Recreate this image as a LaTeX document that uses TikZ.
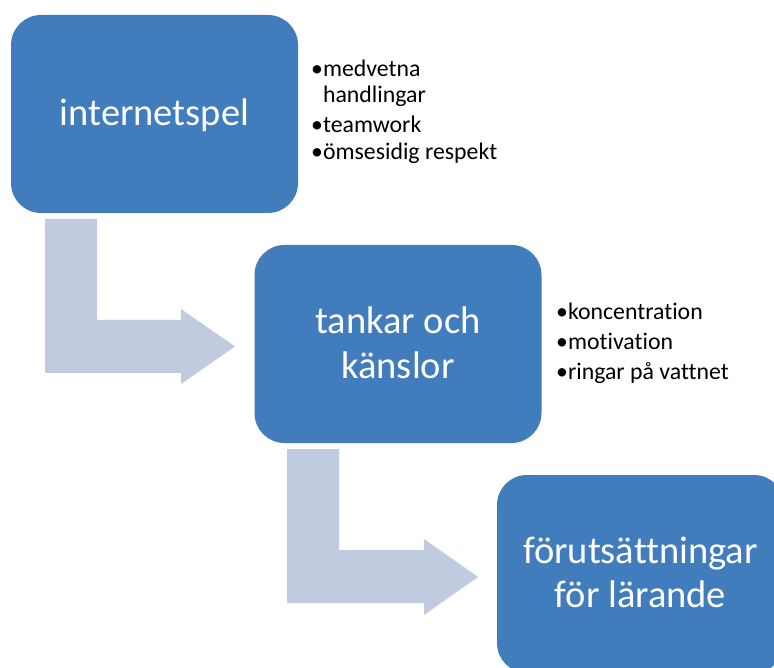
\documentclass[tikz,border=0pt]{standalone}
\usepackage{fontspec}
\setmainfont{Carlito}[Ligatures={NoCommon}]
\usetikzlibrary{calc}
\definecolor{boxblue}{HTML}{417CBC}
\definecolor{arrowgray}{HTML}{C1CBE0}
\begin{document}
\begin{tikzpicture}[x=1pt,y=-1pt,
  box/.style={rectangle, rounded corners=30pt, fill=boxblue, minimum width=287pt, minimum height=198pt, inner sep=0pt},
  boxtext/.style={text=white, font=\fontsize{38.5}{45}\selectfont, anchor=base, inner sep=0pt},
  bullettext/.style={text=black, font=\fontsize{23.8}{26}\selectfont, anchor=base west, inner sep=0pt},
  bentarrow/.style={fill=arrowgray}]
\useasboundingbox (0,0) rectangle (774,668);
\fill[white] (0,0) rectangle (774,668);
\begin{scope}
\clip (0,0) rectangle (774,668);
% bent arrows
\fill[bentarrow] (45,219) -- (97,219) -- (97,320) -- (181,320) -- (181,309) -- (235,346.5) -- (181,384) -- (181,373) -- (45,373) -- cycle;
\fill[bentarrow] (287,449) -- (339,449) -- (339,550) -- (424,550) -- (424,539) -- (478,577) -- (424,615) -- (424,603) -- (287,603) -- cycle;
% boxes
\node[box] (b1) at (154.5,114) {};
\node[box] (b2) at (398,344) {};
\node[box] (b3) at (640.5,574) {};
% box texts
\node[boxtext] (t1) at ($(b1.center)+(0,12)$) {internetspel};
\node[boxtext] (t2a) at ($(b2.center)+(0,-10.5)$) {tankar och};
\node[boxtext] (t2b) at ($(b2.center)+(0,34.5)$) {känslor};
\node[boxtext] (t3a) at ($(b3.center)+(0,-10.5)$) {förutsättningar};
\node[boxtext] (t3b) at ($(b3.center)+(0,33.5)$) {för lärande};
\end{scope}
% bullet lists
\node[bullettext] (l1a) at (311,77) {•medvetna};
\node[bullettext] (l1b) at (311,103) {\phantom{•}handlingar};
\node[bullettext] (l1c) at (311,133) {•teamwork};
\node[bullettext] (l1d) at (311,160) {•ömsesidig respekt};
\node[bullettext] (l2a) at (556,320) {•koncentration};
\node[bullettext] (l2b) at (556,350) {•motivation};
\node[bullettext] (l2c) at (556,379) {•ringar på vattnet};
\end{tikzpicture}
\end{document}
